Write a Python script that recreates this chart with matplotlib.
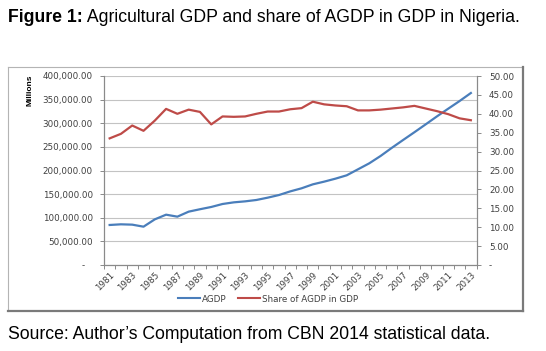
import matplotlib
matplotlib.use("Agg")
import matplotlib.pyplot as plt
from matplotlib.ticker import FuncFormatter, MultipleLocator, FixedLocator
from matplotlib.lines import Line2D

years = list(range(1981, 2014))
agdp = [84700, 86100, 85400, 81100, 96600, 106500, 102300, 112900, 118000, 122800,
        129100, 132600, 134700, 137600, 142500, 148100, 155800, 162300, 170700, 176400,
        182700, 189800, 202500, 215200, 230700, 248000, 264600, 281000, 297700, 314600,
        330900, 347000, 364000]
share = [33.5, 34.7, 36.9, 35.5, 38.2, 41.3, 40.0, 41.1, 40.5, 37.2,
         39.3, 39.2, 39.3, 40.0, 40.6, 40.6, 41.2, 41.5, 43.2, 42.5,
         42.2, 42.0, 40.9, 40.9, 41.1, 41.4, 41.7, 42.1, 41.4, 40.7,
         39.9, 38.8, 38.3]
series_names = ["AGDP", "Share of AGDP in GDP"]
title_bold = "Figure 1:"
title_rest = " Agricultural GDP and share of AGDP in GDP in Nigeria."
source = "Source: Author\u2019s Computation from CBN 2014 statistical data."

W, H = 546, 351
fig = plt.figure(figsize=(W / 100, H / 100), dpi=100)
fig.patch.set_facecolor("white")

BLUE = "#4A7EBB"
RED = "#BE4B48"
TXT = "#404040"
GRID = "#c3c3c3"
AX = "#8a8a8a"

def fx(px):
    return px / W

def fy(py):
    return 1 - py / H

# chart box
fig.add_artist(Line2D([fx(8), fx(523)], [fy(67), fy(67)], color="#b4b4b4", lw=0.8))
fig.add_artist(Line2D([fx(8), fx(8)], [fy(67), fy(311)], color="#b4b4b4", lw=0.8))
fig.add_artist(Line2D([fx(523), fx(523)], [fy(67), fy(311)], color="#7a7a7a", lw=1.6))
fig.add_artist(Line2D([fx(8), fx(523)], [fy(311), fy(311)], color="#7a7a7a", lw=1.6))

ax = fig.add_axes([fx(104), fy(265), fx(476.5) - fx(104), fy(76) - fy(265)])
ax2 = ax.twinx()

x = list(range(len(years)))
ax.plot(x, agdp, color=BLUE, lw=1.6, label=series_names[0], zorder=3, solid_joinstyle="round")
ax2.plot(x, share, color=RED, lw=1.6, label=series_names[1], zorder=3, solid_joinstyle="round")

ax.set_xlim(-0.5, len(years) - 0.5)
ax.set_ylim(0, 400000)
ax2.set_ylim(0, 50)

ax.yaxis.set_major_locator(MultipleLocator(50000))
ax2.yaxis.set_major_locator(MultipleLocator(5))

def lfmt(v, pos):
    if abs(v) < 1e-9:
        return "-   "
    return f"{v:,.2f}"

def rfmt(v, pos):
    if abs(v) < 1e-9:
        return "-"
    return f"{v:.2f}"

ax.yaxis.set_major_formatter(FuncFormatter(lfmt))
ax2.yaxis.set_major_formatter(FuncFormatter(rfmt))

# x axis: boundary ticks, labels every other year at category centres
ax.xaxis.set_major_locator(FixedLocator([i - 0.5 for i in range(len(years) + 1)]))
ax.xaxis.set_major_formatter(FuncFormatter(lambda v, p: ""))
ax.xaxis.set_minor_locator(FixedLocator([i for i in range(0, len(years), 2)]))
ax.xaxis.set_minor_formatter(FuncFormatter(lambda v, p: str(years[int(round(v))])))
ax.tick_params(axis="x", which="major", direction="out", length=3, width=0.7, color=AX)
ax.tick_params(axis="x", which="minor", length=0, pad=4, labelsize=6.3, labelcolor=TXT)
for lab in ax.get_xticklabels(minor=True):
    lab.set_rotation(45)
    lab.set_ha("right")
    lab.set_va("top")
    lab.set_rotation_mode("anchor")

ax.tick_params(axis="y", direction="out", length=3, width=0.7, color=AX, pad=5,
               labelsize=6.3, labelcolor=TXT)
ax2.tick_params(axis="y", direction="out", length=3, width=0.7, color=AX, pad=6,
                labelsize=6.3, labelcolor=TXT)

ax.grid(axis="y", color=GRID, lw=0.8)
ax.set_axisbelow(True)
for a in (ax, ax2):
    a.spines["top"].set_visible(False)
    for s in ("left", "right", "bottom"):
        a.spines[s].set_color(AX)
        a.spines[s].set_linewidth(0.8)

fig.text(fx(30), fy(90), "Millions", rotation=90, fontsize=6, fontweight="bold",
         family="Liberation Sans", ha="center", va="center", color="black")

# legend
handles = [Line2D([], [], color=BLUE, lw=1.5), Line2D([], [], color=RED, lw=1.5)]
fig.legend(handles, series_names, loc="center", bbox_to_anchor=(fx(268), fy(299)),
           ncol=2, frameon=False, fontsize=6.3, handlelength=2.5, handletextpad=0.2,
           columnspacing=1.4, labelcolor=TXT)

# title
t1 = fig.text(fx(8), fy(22), title_bold, fontsize=12.7, fontweight="bold",
              family="Liberation Sans", ha="left", va="baseline")
fig.canvas.draw()
bb = t1.get_window_extent(renderer=fig.canvas.get_renderer())
fig.text(bb.x1 / W, fy(22), title_rest, fontsize=12.7, family="Liberation Sans",
         ha="left", va="baseline")

fig.text(fx(8), fy(339), source, fontsize=12.7, family="Liberation Sans",
         ha="left", va="baseline")

fig.savefig("out.png", dpi=100, facecolor="white")
